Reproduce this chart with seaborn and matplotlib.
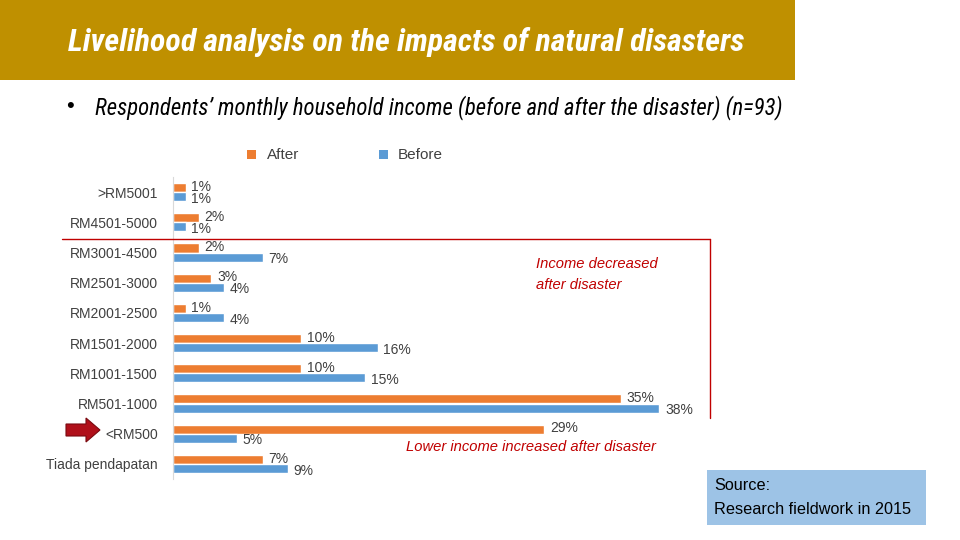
import matplotlib
matplotlib.use("Agg")
import matplotlib.pyplot as plt
from matplotlib.patches import Rectangle, FancyArrow
from matplotlib.lines import Line2D
import seaborn as sns
import pandas as pd
from matplotlib import font_manager

categories = [">RM5001", "RM4501-5000", "RM3001-4500", "RM2501-3000", "RM2001-2500",
              "RM1501-2000", "RM1001-1500", "RM501-1000", "<RM500", "Tiada pendapatan"]
after = [1, 2, 2, 3, 1, 10, 10, 35, 29, 7]
before = [1, 1, 7, 4, 4, 16, 15, 38, 5, 9]
series = ["After", "Before"]

sns.set_style("white")
names = {f.name for f in font_manager.fontManager.ttflist}
narrow = "Liberation Sans"
for cand in ["Liberation Sans Narrow", "Roboto Condensed", "Open Sans Condensed", "DejaVu Sans Condensed"]:
    if cand in names:
        narrow = cand
        break
plt.rcParams['font.family'] = ['Liberation Sans', 'DejaVu Sans']

df = pd.DataFrame({
    "category": categories * 2,
    "value": after + before,
    "series": [series[0]] * len(categories) + [series[1]] * len(categories),
})

fig = plt.figure(figsize=(9.6, 5.4), dpi=100)
ax = fig.add_axes([173/960, 1 - 479/540, 576/960, 302/540])

sns.barplot(data=df, y="category", x="value", hue="series", hue_order=series,
            order=categories, palette=["#ED7D31", "#5B9BD5"], orient="h",
            width=0.6, ax=ax, saturation=1, legend=False)

# value labels: "After" a touch above its bar, "Before" a touch below
for cont, dy in zip(ax.containers, [0.6, -1.6]):
    for b in cont:
        w = b.get_width()
        yc = b.get_y() + b.get_height() / 2
        ax.annotate(f"{int(round(w))}%", (w, yc), xytext=(4, dy), textcoords="offset points",
                    ha="left", va="center", fontsize=10, color="#404040")

ax.set_xlim(0, 45)
ax.set_ylim(9.5, -0.5)
ax.set_xlabel("")
ax.set_ylabel("")
ax.set_xticks([])
for s in ["top", "right", "bottom"]:
    ax.spines[s].set_visible(False)
ax.spines["left"].set_color("#D9D9D9")
ax.tick_params(axis="y", length=0, pad=11, labelsize=10, labelcolor="#404040")

# banner
fig.patches.append(Rectangle((0, 1 - 80/540), 795/960, 80/540, transform=fig.transFigure,
                             facecolor="#BF9000", edgecolor="none", zorder=0))
title = fig.text(68/960, 1 - 42/540, "Livelihood analysis on the impacts of natural disasters",
                 family=[narrow, 'DejaVu Sans'], fontsize=23, fontweight="bold",
                 fontstyle="italic", color="white", va="center", ha="left")
fig.text(66/960, 1 - 107/540, "\u2022", fontsize=16, color="black", va="center", ha="left")
bullet = fig.text(95/960, 1 - 108/540,
                  "Respondents\u2019 monthly household income (before and after the disaster) (n=93)",
                  family=[narrow, 'DejaVu Sans'], fontsize=15.5, fontstyle="italic",
                  color="black", va="center", ha="left")

# legend
fig.patches.append(Rectangle((247/960, 1 - 159/540), 9/960, 9/540, transform=fig.transFigure,
                             facecolor="#ED7D31", edgecolor="none"))
fig.text(267/960, 1 - 155/540, "After", fontsize=11, color="#404040", va="center")
fig.patches.append(Rectangle((379/960, 1 - 159/540), 9/960, 9/540, transform=fig.transFigure,
                             facecolor="#5B9BD5", edgecolor="none"))
fig.text(398/960, 1 - 155/540, "Before", fontsize=11, color="#404040", va="center")

# red bracket lines
red = "#C00000"
fig.add_artist(Line2D([62/960, 710/960], [1 - 239/540, 1 - 239/540], transform=fig.transFigure,
                      color=red, lw=1))
fig.add_artist(Line2D([710/960, 710/960], [1 - 239/540, 1 - 418/540], transform=fig.transFigure,
                      color=red, lw=1))

fig.text(536/960, 1 - 264/540, "Income decreased", fontsize=10.6, fontstyle="italic",
         color=red, va="center")
fig.text(536/960, 1 - 285/540, "after disaster", fontsize=10.6, fontstyle="italic",
         color=red, va="center")
fig.text(406/960, 1 - 447/540, "Lower income increased after disaster", fontsize=10.6,
         fontstyle="italic", color=red, va="center")

# arrow
fig.add_artist(FancyArrow(66/960, 1 - 430/540, 20/960, 0, width=12/540, head_width=24/540,
                          head_length=14/960, transform=fig.transFigure,
                          facecolor="#B0101A", edgecolor="#7A0A10", lw=0.8,
                          length_includes_head=False))

# source box
fig.patches.append(Rectangle((707/960, 1 - 525/540), 219/960, 55/540, transform=fig.transFigure,
                             facecolor="#9DC3E6", edgecolor="none"))
fig.text(714/960, 1 - 486/540, "Source:", fontsize=11.7, color="black", va="center")
fig.text(714/960, 1 - 510/540, "Research fieldwork in 2015", fontsize=11.7, color="black",
         va="center")

# fit long texts to the reference widths
fig.canvas.draw()
renderer = fig.canvas.get_renderer()
for txt, target in [(title, 680), (bullet, 687)]:
    w = txt.get_window_extent(renderer).width
    txt.set_fontsize(txt.get_fontsize() * target / w)

fig.savefig("out.png", dpi=100)
